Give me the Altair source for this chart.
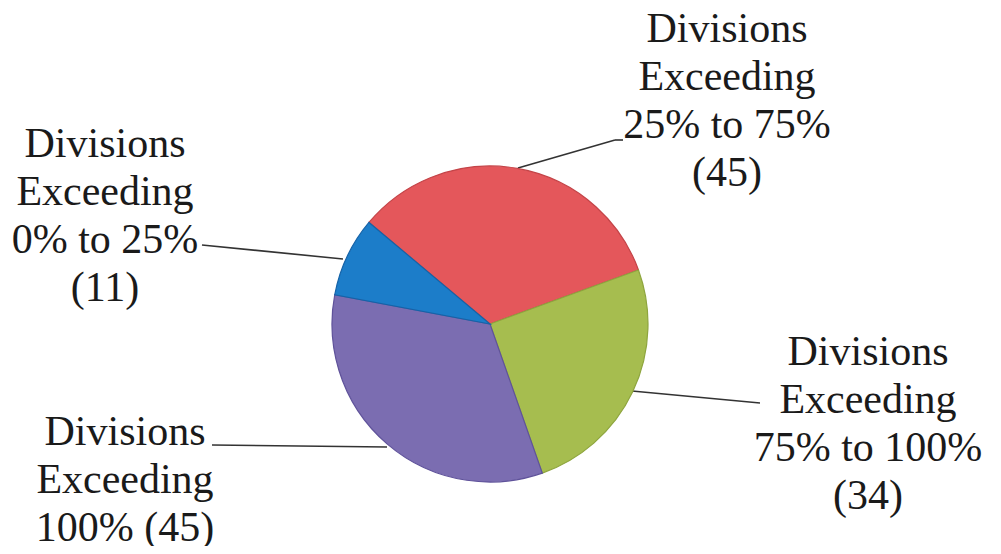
import altair as alt
import pandas as pd
import math

# ---- data ----
categories = [
    "Divisions Exceeding 25% to 75%",
    "Divisions Exceeding 75% to 100%",
    "Divisions Exceeding 100%",
    "Divisions Exceeding 0% to 25%",
]
counts = [45, 34, 45, 11]
slice_colors = ["#E4575B", "#A6BD4F", "#7B6DB1", "#1C7DC9"]
edge_colors = ["#C44448", "#8EA53E", "#5F529A", "#1563A8"]
label_texts = [
    "Divisions\nExceeding\n25% to 75%\n(45)",
    "Divisions\nExceeding\n75% to 100%\n(34)",
    "Divisions\nExceeding\n100% (45)",
    "Divisions\nExceeding\n0% to 25%\n(11)",
]

df = pd.DataFrame({"cat": categories, "n": counts, "idx": list(range(len(categories)))})

# ---- layout ----
W, H = 985, 538
CX, CY, R = 482, 316, 158
start = math.radians(-50)

pie = alt.Chart(df).mark_arc(outerRadius=R, strokeWidth=1.2).encode(
    theta=alt.Theta("n:Q", stack=True, scale=alt.Scale(range=[start, start + 2 * math.pi])),
    order=alt.Order("idx:Q"),
    color=alt.Color("cat:N", scale=alt.Scale(domain=categories, range=slice_colors), legend=None),
    stroke=alt.Stroke("cat:N", scale=alt.Scale(domain=categories, range=edge_colors), legend=None),
    x=alt.value(CX),
    y=alt.value(CY),
)

label_pos = [(719, 34), (860, 357), (117, 437), (97, 149)]
text_layers = []
for t, (lx, ly) in zip(label_texts, label_pos):
    text_layers.append(
        alt.Chart(pd.DataFrame({"t": [t]})).mark_text(
            font="Liberation Serif", fontSize=42, lineBreak="\n", lineHeight=48,
            align="center", baseline="alphabetic", color="#1a1a1a",
        ).encode(text="t:N", x=alt.value(lx), y=alt.value(ly))
    )

leaders = [
    (510, 160, 607, 132),
    (607, 132, 615, 132),
    (194, 237, 335, 251),
    (624, 383, 752, 395),
    (204, 437, 379, 439),
]
rule_layers = []
for x1, y1, x2, y2 in leaders:
    rule_layers.append(
        alt.Chart(pd.DataFrame({"d": [0]})).mark_rule(color="#333333", strokeWidth=1.6).encode(
            x=alt.value(x1), y=alt.value(y1), x2=alt.value(x2), y2=alt.value(y2)
        )
    )

chart = alt.layer(*rule_layers, pie, *text_layers).properties(
    width=W, height=H, padding=0, autosize=alt.AutoSizeParams(type="none")
).configure_view(stroke=None)

chart.save("out.html", embed_options={"renderer": "svg", "actions": False})
